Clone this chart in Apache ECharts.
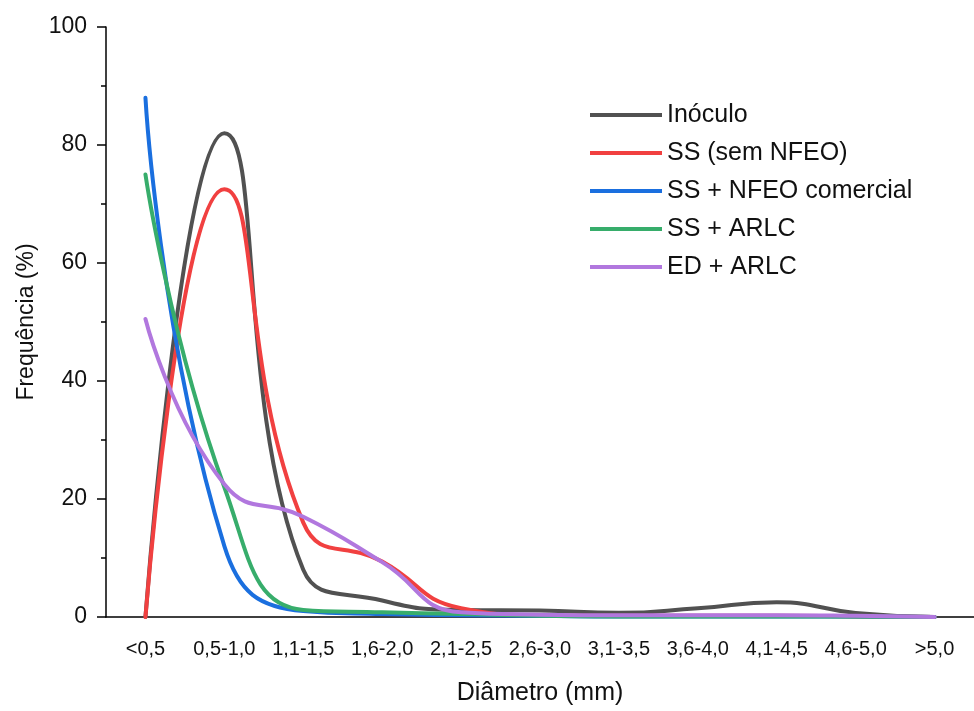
<!DOCTYPE html>
<html>
<head>
<meta charset="utf-8">
<script src="https://cdn.jsdelivr.net/npm/echarts@6/dist/echarts.min.js"></script>
<style>
html,body{margin:0;padding:0;background:#fff;}
#chart{width:974px;height:711px;}
</style>
</head>
<body>
<div id="chart"></div>
<script>
const categories = ['<0,5','0,5-1,0','1,1-1,5','1,6-2,0','2,1-2,5','2,6-3,0','3,1-3,5','3,6-4,0','4,1-4,5','4,6-5,0','>5,0'];
const yTicks = [0, 20, 40, 60, 80, 100];
const seriesNames = ['Inóculo', 'SS (sem NFEO)', 'SS + NFEO comercial', 'SS + ARLC', 'ED + ARLC'];
const inoculo        = [0, 82, 8, 2.8, 1.2, 1.1, 0.7, 1.5, 2.5, 0.7, 0];
const ssSemNFEO      = [0, 72.5, 16, 9.4, 1.5, 0.3, 0.2, 0.2, 0.2, 0.1, 0];
const ssNFEOcomercial= [88, 12, 1, 0.5, 0.3, 0.2, 0.1, 0.1, 0.1, 0.1, 0];
const ssARLC         = [75, 22, 1.2, 0.8, 0.5, 0.2, 0.1, 0.1, 0.1, 0.1, 0];
const edARLC         = [50.5, 22.5, 17, 9.3, 0.8, 0.4, 0.3, 0.3, 0.3, 0.2, 0];
const colors = ['#515151', '#F14040', '#1A6FDF', '#37AD6B', '#B177DE'];

const FONT = 'Liberation Sans, Arial, sans-serif';
const chart = echarts.init(document.getElementById('chart'), null, {renderer: 'canvas'});
const allData = [inoculo, ssSemNFEO, ssNFEOcomercial, ssARLC, edARLC];

const option = {
  backgroundColor: '#fff',
  animation: false,
  color: colors,
  grid: {left: 106, top: 27, width: 880, height: 590},
  legend: {
    left: 590, top: 102, orient: 'vertical', padding: 0,
    icon: 'rect', itemWidth: 72, itemHeight: 4, itemGap: 12,
    textStyle: {fontFamily: FONT, fontSize: 25, color: '#111', lineHeight: 26},
    data: seriesNames
  },
  xAxis: [{
    type: 'category', data: categories, boundaryGap: true,
    name: 'Diâmetro (mm)', nameLocation: 'middle', nameGap: 64,
    nameTextStyle: {fontFamily: FONT, fontSize: 25, color: '#111'},
    axisLine: {lineStyle: {color: '#000', width: 1.5}},
    axisTick: {alignWithLabel: false, length: 5, interval: 0, lineStyle: {width: 1.5, color: '#000'}},
    axisLabel: {interval: 0, fontFamily: FONT, fontSize: 20, color: '#111', margin: 22},
    splitLine: {show: false}
  }, {
    type: 'category', data: categories, boundaryGap: true, position: 'bottom',
    axisLine: {show: false},
    axisTick: {alignWithLabel: true, length: 9, interval: 0, lineStyle: {width: 1.5, color: '#000'}},
    axisLabel: {show: false},
    splitLine: {show: false}
  }],
  yAxis: {
    type: 'value', min: yTicks[0], max: yTicks[yTicks.length - 1], interval: 20,
    name: 'Frequência (%)', nameLocation: 'middle', nameGap: 62, nameRotate: 90,
    nameTextStyle: {fontFamily: FONT, fontSize: 23, color: '#111'},
    axisLine: {show: true, lineStyle: {color: '#000', width: 1.5}},
    axisTick: {show: true, length: 9, lineStyle: {width: 1.5, color: '#000'}},
    minorTick: {show: true, splitNumber: 2, length: 5, lineStyle: {width: 1.5, color: '#000'}},
    axisLabel: {fontFamily: FONT, fontSize: 23, color: '#111', margin: 19},
    splitLine: {show: false}
  },
  series: allData.map((d, i) => ({
    name: seriesNames[i], type: 'line', data: d, smooth: 0.5,
    symbol: 'none', showSymbol: false, clip: true,
    xAxisIndex: 0,
    lineStyle: {width: 4, color: colors[i], cap: 'round', join: 'round'},
    itemStyle: {color: colors[i]}
  }))
};
chart.setOption(option);
</script>
</body>
</html>
